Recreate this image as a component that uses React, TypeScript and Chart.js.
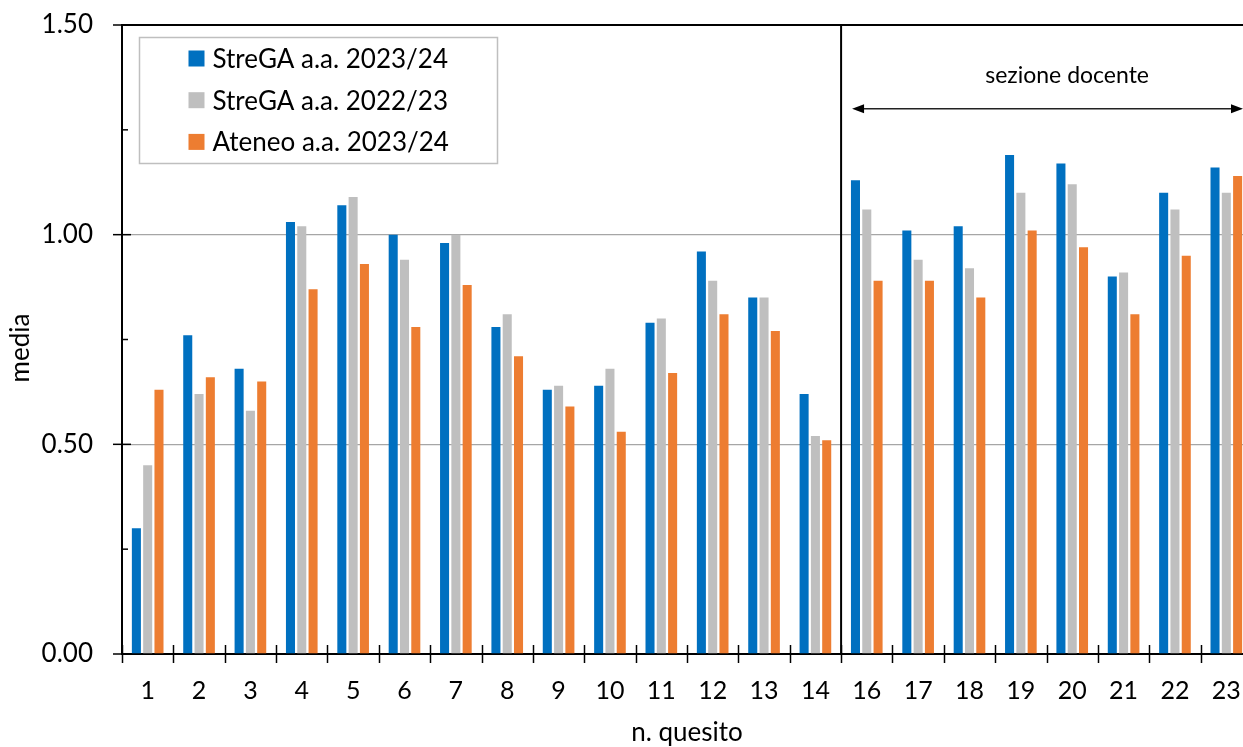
import React, { useEffect, useRef } from "react";
import { Chart, registerables } from "chart.js";

Chart.register(...registerables);

const categories = ["1", "2", "3", "4", "5", "6", "7", "8", "9", "10", "11", "12", "13", "14", "16", "17", "18", "19", "20", "21", "22", "23"];
const streGA2324 = [0.30, 0.76, 0.68, 1.03, 1.07, 1.00, 0.98, 0.78, 0.63, 0.64, 0.79, 0.96, 0.85, 0.62, 1.13, 1.01, 1.02, 1.19, 1.17, 0.90, 1.10, 1.16];
const streGA2223 = [0.45, 0.62, 0.58, 1.02, 1.09, 0.94, 1.00, 0.81, 0.64, 0.68, 0.80, 0.89, 0.85, 0.52, 1.06, 0.94, 0.92, 1.10, 1.12, 0.91, 1.06, 1.10];
const ateneo2324 = [0.63, 0.66, 0.65, 0.87, 0.93, 0.78, 0.88, 0.71, 0.59, 0.53, 0.67, 0.81, 0.77, 0.51, 0.89, 0.89, 0.85, 1.01, 0.97, 0.81, 0.95, 1.14];
const seriesLabels = ["StreGA a.a. 2023/24", "StreGA a.a. 2022/23", "Ateneo a.a. 2023/24"];
const seriesColors = ["#0070C0", "#BFBFBF", "#ED7D31"];
const yMajorTicks = [0, 0.5, 1.0, 1.5];
const yMinorTicks = [0.25, 0.75, 1.25];
const sectionLabel = "sezione docente";
const xTitle = "n. quesito";
const yTitle = "media";
const sectionStartIndex = 14;

const FONT = "Lato, 'Open Sans', sans-serif";

const overlayPlugin = {
  id: "overlay",
  afterDraw(chart: any) {
    const { ctx, chartArea, scales } = chart;
    const { left, right, top, bottom } = chartArea;
    const y = scales.y;
    const n = categories.length;
    const cw = (right - left) / n;
    ctx.save();
    ctx.strokeStyle = "#000";
    ctx.lineWidth = 1.5;
    // x category ticks (crossing)
    for (let i = 0; i <= n; i++) {
      const xx = Math.round(left + i * cw) + 0.5;
      ctx.beginPath();
      ctx.moveTo(xx, bottom - 9);
      ctx.lineTo(xx, bottom + 9);
      ctx.stroke();
    }
    // y major ticks (crossing)
    for (const v of yMajorTicks) {
      const yy = y.getPixelForValue(v);
      ctx.beginPath();
      ctx.moveTo(left - 9, yy);
      ctx.lineTo(left + 9, yy);
      ctx.stroke();
    }
    // y minor ticks (inside)
    for (const v of yMinorTicks) {
      const yy = y.getPixelForValue(v);
      ctx.beginPath();
      ctx.moveTo(left, yy);
      ctx.lineTo(left + 6, yy);
      ctx.stroke();
    }
    // divider
    const dx = left + sectionStartIndex * cw;
    ctx.lineWidth = 2;
    ctx.beginPath();
    ctx.moveTo(dx, top);
    ctx.lineTo(dx, bottom);
    ctx.stroke();

    // arrow
    const ay = y.getPixelForValue(1.3);
    const ax1 = dx + 11;
    const ax2 = right - 9;
    ctx.lineWidth = 1.5;
    ctx.strokeStyle = "#222";
    ctx.beginPath();
    ctx.moveTo(ax1 + 8, ay);
    ctx.lineTo(ax2 - 8, ay);
    ctx.stroke();
    ctx.fillStyle = "#000";
    ctx.beginPath();
    ctx.moveTo(ax1, ay);
    ctx.lineTo(ax1 + 12, ay - 4.5);
    ctx.lineTo(ax1 + 12, ay + 4.5);
    ctx.closePath();
    ctx.fill();
    ctx.beginPath();
    ctx.moveTo(ax2, ay);
    ctx.lineTo(ax2 - 12, ay - 4.5);
    ctx.lineTo(ax2 - 12, ay + 4.5);
    ctx.closePath();
    ctx.fill();

    // section text
    ctx.fillStyle = "#000";
    ctx.font = `23px ${FONT}`;
    ctx.textAlign = "center";
    ctx.textBaseline = "middle";
    ctx.fillText(sectionLabel, dx + 226, y.getPixelForValue(1.38));

    // legend
    const lx = left + 17.5;
    const ly = top + 12.5;
    const lw = 358;
    const lh = 126;
    ctx.fillStyle = "#fff";
    ctx.fillRect(lx, ly, lw, lh);
    ctx.strokeStyle = "#BFBFBF";
    ctx.lineWidth = 1.5;
    ctx.strokeRect(lx, ly, lw, lh);
    ctx.font = `26px ${FONT}`;
    ctx.textAlign = "left";
    ctx.textBaseline = "middle";
    for (let i = 0; i < seriesLabels.length; i++) {
      const cy = ly + 21 + i * 41.7;
      ctx.fillStyle = seriesColors[i];
      ctx.fillRect(lx + 49, cy - 8, 16, 16);
      ctx.fillStyle = "#000";
      ctx.fillText(seriesLabels[i], lx + 73, cy + 1);
    }

    // axis titles
    ctx.font = `26px ${FONT}`;
    ctx.textAlign = "center";
    ctx.textBaseline = "middle";
    ctx.fillText(xTitle, (left + right) / 2, 733);
    ctx.save();
    ctx.translate(21, 348);
    ctx.rotate(-Math.PI / 2);
    ctx.fillText(yTitle, 0, 0);
    ctx.restore();

    ctx.restore();
  },
};

export default function App() {
  const ref = useRef<HTMLCanvasElement | null>(null);
  useEffect(() => {
    if (!ref.current) return;
    const datasets = [streGA2324, streGA2223, ateneo2324].map((data, i) => ({
      label: seriesLabels[i],
      data,
      backgroundColor: seriesColors[i],
      borderWidth: 0,
      categoryPercentage: 0.66,
      barPercentage: 0.8,
    }));
    const chart = new Chart(ref.current, {
      type: "bar",
      data: { labels: categories, datasets },
      options: {
        responsive: false,
        animation: false,
        devicePixelRatio: 1,
        layout: { padding: { top: 25, left: 0, right: 0, bottom: 0 } },
        plugins: { legend: { display: false }, tooltip: { enabled: false } },
        scales: {
          x: {
            type: "category",
            grid: { display: false, drawTicks: false },
            border: { display: true, color: "#000", width: 2 },
            ticks: {
              color: "#000",
              font: { family: FONT, size: 25 },
              padding: 22,
              maxRotation: 0,
              autoSkip: false,
            },
            afterFit: (s: any) => {
              s.height = 93;
              s.paddingLeft = 0;
              s.paddingRight = 0;
            },
          },
          y: {
            min: 0,
            max: 1.5,
            grid: {
              drawTicks: false,
              color: (c: any) =>
                c.tick && Math.abs(c.tick.value - 1.5) < 1e-6
                  ? "#000"
                  : c.tick && c.tick.value === 0
                  ? "rgba(0,0,0,0)"
                  : "#A6A6A6",
              lineWidth: (c: any) => (c.tick && Math.abs(c.tick.value - 1.5) < 1e-6 ? 2 : 1.3),
            },
            border: { display: true, color: "#000", width: 2 },
            ticks: {
              stepSize: 0.5,
              color: "#000",
              font: { family: FONT, size: 26 },
              padding: 29,
              callback: (v: any) => Number(v).toFixed(2),
            },
            afterFit: (s: any) => {
              s.width = 122;
              s.paddingTop = 0;
              s.paddingBottom = 0;
            },
          },
        },
      },
      plugins: [overlayPlugin],
    });
    return () => chart.destroy();
  }, []);
  return (
    <div style={{ position: "fixed", left: 0, top: 0, width: 1243, height: 747, overflow: "hidden", background: "#fff" }}>
      <canvas ref={ref} width={1252} height={747} style={{ display: "block" }} />
    </div>
  );
}
